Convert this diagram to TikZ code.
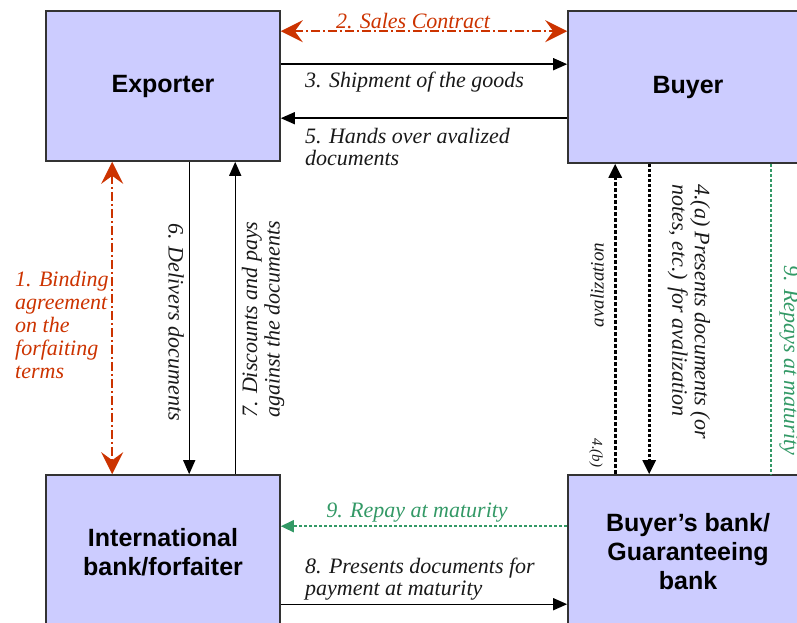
\documentclass[tikz,border=0pt]{standalone}
\usepackage{fontspec}
\setmainfont{Liberation Serif}
\newfontfamily\boxfont{Liberation Sans}
\usetikzlibrary{arrows.meta}
\definecolor{boxfill}{HTML}{CCCCFF}
\definecolor{boxline}{HTML}{333333}
\definecolor{redc}{HTML}{CC3300}
\definecolor{greenc}{HTML}{339966}
\tikzset{
  party/.style={draw=boxline, line width=1.6pt, fill=boxfill, inner sep=0pt,
    align=center, font=\boxfont\bfseries\fontsize{25}{29}\selectfont},
  lbl/.style={inner sep=0pt, font=\itshape\fontsize{22}{22.5}\selectfont, text=black!90},
  redlbl/.style={lbl, text=redc},
  greenlbl/.style={lbl, text=greenc},
  flow/.style={line width=1.4pt, -{Triangle[length=14pt,width=12pt]}},
  redflow/.style={draw=redc, line width=2.4pt, dash pattern=on 9pt off 3pt on 2pt off 3pt,
    {Stealth[length=22pt,width=22pt,inset=8pt]}-{Stealth[length=22pt,width=22pt,inset=8pt]}},
  dotflowA/.style={line width=3pt, dash pattern=on 4pt off 2pt, -{Triangle[length=14pt,width=13pt]}},
  dotflowB/.style={line width=2.6pt, dash pattern=on 3pt off 2pt, -{Triangle[length=14pt,width=13pt]}},
  greenflow/.style={draw=greenc, line width=1.6pt, dash pattern=on 3pt off 2pt, -{Triangle[length=13pt,width=12pt,fill=greenc]}},
}
\begin{document}
\begin{tikzpicture}[x=1pt,y=-1pt]
\useasboundingbox (0,0) rectangle (797,623);
% boxes
\node[party, minimum width=234pt, minimum height=150pt] (exp) at (163,86) {\raisebox{-3pt}{Exporter}};
\node[party, minimum width=240pt, minimum height=152pt] (buy) at (688,87) {\raisebox{-4pt}{Buyer}};
\node[party, minimum width=234pt, minimum height=154pt] (int) at (163,552) {International\\bank/forfaiter};
\node[party, minimum width=240pt, minimum height=154pt] (bb) at (688,552) {Buyer’s bank/\\Guaranteeing\\bank};

% top horizontal flows
\draw[redflow] ([yshift=-21pt]exp.north east) -- ([yshift=-21pt]buy.north west);
\draw[flow] ([yshift=-54pt]exp.north east) -- ([yshift=-54pt]buy.north west);
\draw[flow] ([yshift=-108pt]buy.north west) -- ([yshift=-108pt]exp.north east);

% left vertical flows
\draw[redflow] ([xshift=67pt]exp.south west) -- ([xshift=67pt]int.north west);
\draw[flow] ([xshift=144pt]exp.south west) -- ([xshift=144pt]int.north west);
\draw[flow] ([xshift=190pt]int.north west) -- ([xshift=190pt]exp.south west);

% right vertical flows
\draw[dotflowA] ([xshift=48pt]bb.north west) -- ([xshift=48pt]buy.south west);
\draw[dotflowB] ([xshift=82pt]buy.south west) -- ([xshift=82pt]bb.north west);
\draw[draw=greenc, line width=1.6pt, dash pattern=on 3pt off 2pt] ([xshift=204pt]buy.south west) -- ([xshift=204pt]bb.north west);

% bottom horizontal flows
\draw[greenflow] ([yshift=-52pt]bb.north west) -- ([yshift=-52pt]int.north east);
\draw[flow] ([yshift=-130pt]int.north east) -- ([yshift=-130pt]bb.north west);

% labels
\node[redlbl] (l2) at (413,21) {2. Sales Contract};
\node[lbl, anchor=west] (l3) at (305,82) {3. Shipment of the goods};
\node[lbl, anchor=west, align=left] (l5) at (305,147) {5. Hands over avalized\\documents};
\node[redlbl, anchor=west, align=left, font=\itshape\fontsize{22}{23.2}\selectfont] (l1) at (15,325) {1. Binding\\agreement\\on the\\forfaiting\\terms};
\node[lbl, rotate=-90] (l6) at (176,322) {6. Delivers documents};
\node[lbl, rotate=90, anchor=west, align=left] (l7) at (263,418) {7. Discounts and pays\\against the documents};
\node[lbl, rotate=-90, anchor=west, align=left] (l4a) at (689,184) {4.(a) Presents documents (or\\notes, etc.) for avalization};
\node[lbl, rotate=90, font=\itshape\fontsize{19}{19}\selectfont] (l4b) at (597,285) {avalization};
\node[lbl, rotate=-90, font=\itshape\fontsize{15}{15}\selectfont] (l4bn) at (596,453) {4.(b)};
\node[greenlbl, rotate=-90, anchor=west] (l9v) at (789,265) {9. Repays at maturity};
\node[greenlbl] (l9) at (417,513) {9. Repay at maturity};
\node[lbl, anchor=west, align=left] (l8) at (305,579) {8. Presents documents for\\payment at maturity};
\end{tikzpicture}
\end{document}
